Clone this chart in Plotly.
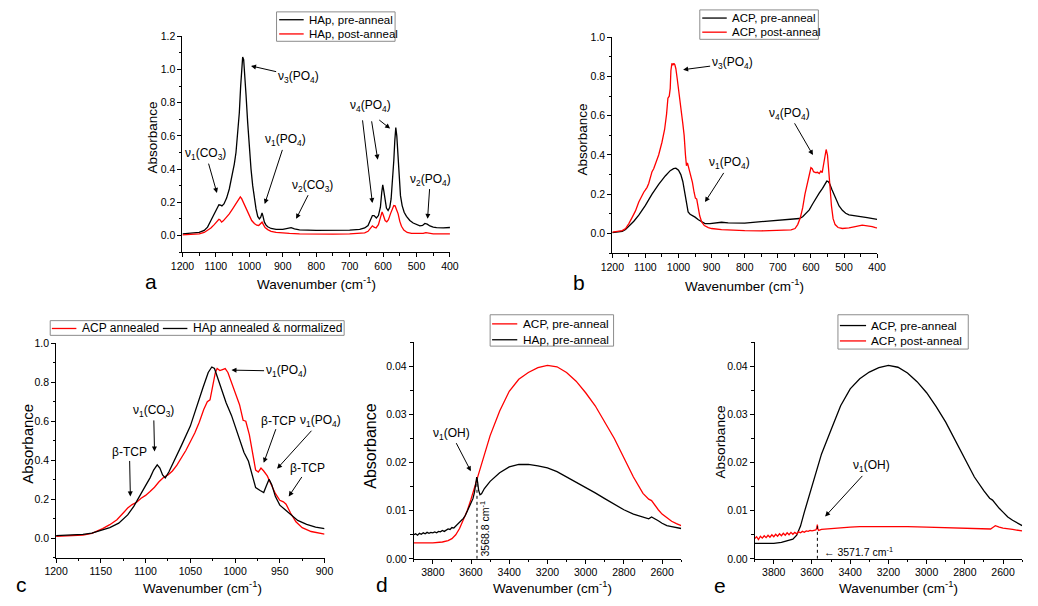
import plotly.graph_objects as go

FONT = "Liberation Sans, Arial, sans-serif"
BLACK = "#000000"
RED = "#ff0000"
W, H = 1038, 606

# ---- panel a: HAp, 1200-400 cm-1 ----
a_wn_pre = [1200, 1175, 1150, 1135, 1125, 1115, 1105, 1097, 1091, 1086, 1082, 1076, 1068, 1060, 1052, 1045,
            1040, 1035, 1030, 1026, 1023, 1020, 1017, 1014, 1010, 1005, 1000, 995, 990, 985, 980, 975, 970,
            966, 962, 959, 955, 950, 945, 935, 920, 900, 885, 875, 865, 850, 800, 750, 700, 670, 655, 645,
            638, 632, 627, 620, 614, 608, 604, 601, 598, 594, 590, 585, 580, 576, 572, 568, 565, 562, 559,
            556, 552, 548, 543, 537, 530, 520, 510, 500, 490, 482, 475, 468, 460, 450, 440, 420, 400]
a_abs_pre = [0.010, 0.012, 0.018, 0.030, 0.050, 0.090, 0.130, 0.165, 0.185, 0.183, 0.178, 0.190, 0.225, 0.280,
             0.350, 0.430, 0.500, 0.600, 0.740, 0.900, 1.010, 1.075, 1.060, 0.990, 0.850, 0.680, 0.530, 0.400,
             0.300, 0.220, 0.160, 0.115, 0.100, 0.110, 0.135, 0.115, 0.080, 0.062, 0.052, 0.042, 0.037, 0.036,
             0.040, 0.047, 0.040, 0.034, 0.030, 0.030, 0.032, 0.037, 0.045, 0.060, 0.090, 0.120, 0.120, 0.105,
             0.120, 0.170, 0.260, 0.305, 0.270, 0.200, 0.165, 0.150, 0.170, 0.220, 0.320, 0.450, 0.570, 0.650,
             0.600, 0.480, 0.330, 0.240, 0.180, 0.140, 0.115, 0.090, 0.075, 0.065, 0.058, 0.060, 0.072, 0.068,
             0.057, 0.050, 0.047, 0.046, 0.048]
a_wn_post = [1200, 1175, 1150, 1135, 1125, 1115, 1105, 1097, 1091, 1088, 1083, 1078, 1070, 1060, 1050, 1042,
             1035, 1030, 1027, 1023, 1018, 1012, 1005, 1000, 993, 985, 978, 972, 967, 962, 958, 953, 945, 935,
             920, 900, 880, 850, 800, 750, 700, 670, 655, 645, 638, 632, 627, 621, 614, 608, 603, 599, 594,
             589, 584, 578, 573, 568, 564, 560, 555, 550, 545, 538, 528, 515, 495, 480, 472, 464, 450, 420, 400]
a_abs_post = [0.004, 0.006, 0.010, 0.018, 0.030, 0.045, 0.065, 0.085, 0.097, 0.095, 0.080, 0.088, 0.105, 0.130,
              0.160, 0.185, 0.215, 0.228, 0.232, 0.222, 0.200, 0.170, 0.135, 0.112, 0.090, 0.072, 0.062, 0.060,
              0.068, 0.080, 0.065, 0.047, 0.035, 0.025, 0.018, 0.014, 0.012, 0.010, 0.008, 0.008, 0.009, 0.012,
              0.016, 0.025, 0.045, 0.058, 0.050, 0.045, 0.065, 0.110, 0.142, 0.120, 0.090, 0.082, 0.095, 0.130,
              0.160, 0.180, 0.178, 0.160, 0.130, 0.085, 0.055, 0.032, 0.018, 0.012, 0.010, 0.012, 0.017, 0.013,
              0.010, 0.009, 0.010]

# ---- panel b: ACP, 1200-400 cm-1 ----
b_wn_pre = [1200, 1185, 1170, 1160, 1150, 1135, 1120, 1100, 1080, 1060, 1040, 1025, 1015, 1008, 1000, 993,
            987, 981, 976, 971, 965, 958, 950, 940, 930, 920, 905, 890, 870, 850, 800, 750, 700, 650, 635,
            625, 615, 605, 595, 585, 575, 565, 558, 552, 548, 543, 537, 530, 522, 515, 505, 495, 485, 470,
            450, 430, 415, 400]
b_abs_pre = [0.004, 0.006, 0.010, 0.020, 0.035, 0.062, 0.093, 0.143, 0.200, 0.250, 0.293, 0.320, 0.330, 0.333,
             0.322, 0.300, 0.265, 0.200, 0.140, 0.110, 0.098, 0.092, 0.083, 0.070, 0.058, 0.050, 0.050, 0.053,
             0.057, 0.054, 0.052, 0.060, 0.068, 0.073, 0.076, 0.085, 0.100, 0.120, 0.150, 0.180, 0.205, 0.230,
             0.252, 0.267, 0.265, 0.252, 0.225, 0.195, 0.165, 0.140, 0.118, 0.103, 0.095, 0.090, 0.086, 0.081,
             0.077, 0.072]
b_wn_post = [1200, 1180, 1170, 1160, 1150, 1140, 1130, 1120, 1112, 1105, 1100, 1095, 1090, 1085, 1080, 1075,
             1068, 1060, 1050, 1042, 1036, 1032, 1028, 1025, 1023, 1020, 1017, 1014, 1011, 1008, 1004, 1000,
             996, 993, 990, 987, 983, 979, 976, 973, 970, 966, 962, 958, 953, 949, 945, 941, 936, 930, 922,
             910, 900, 870, 850, 800, 750, 700, 660, 648, 640, 632, 625, 618, 612, 606, 600, 596, 592, 586,
             580, 575, 570, 566, 562, 558, 554, 550, 546, 542, 538, 533, 527, 518, 505, 495, 485, 470, 455,
             445, 435, 425, 415, 405, 400]
b_abs_post = [0.007, 0.010, 0.014, 0.025, 0.050, 0.082, 0.115, 0.160, 0.190, 0.210, 0.222, 0.235, 0.255, 0.290,
              0.315, 0.330, 0.360, 0.400, 0.465, 0.530, 0.610, 0.690, 0.700, 0.740, 0.830, 0.868, 0.858, 0.868,
              0.860, 0.840, 0.790, 0.735, 0.680, 0.610, 0.600, 0.560, 0.500, 0.400, 0.345, 0.360, 0.340, 0.320,
              0.300, 0.260, 0.210, 0.180, 0.175, 0.140, 0.090, 0.058, 0.040, 0.030, 0.025, 0.019, 0.017, 0.014,
              0.013, 0.014, 0.018, 0.025, 0.045, 0.080, 0.130, 0.200, 0.250, 0.300, 0.335, 0.330, 0.315, 0.310,
              0.312, 0.305, 0.318, 0.310, 0.345, 0.390, 0.428, 0.400, 0.330, 0.230, 0.140, 0.075, 0.045, 0.030,
              0.025, 0.025, 0.028, 0.033, 0.038, 0.042, 0.040, 0.038, 0.035, 0.030, 0.028]

# ---- panel c: annealed, 1200-900 cm-1 ----
c_wn_acp = [1200, 1185, 1170, 1160, 1155, 1148, 1140, 1132, 1125, 1120, 1115, 1110, 1105, 1100, 1095, 1090,
            1085, 1080, 1075, 1070, 1065, 1060, 1055, 1050, 1045, 1040, 1035, 1031, 1028, 1025, 1022, 1020,
            1017, 1014, 1011, 1008, 1004, 1000, 995, 991, 988, 984, 980, 977, 974, 971, 968, 964, 960, 955,
            950, 946, 943, 938, 932, 925, 915, 900]
c_abs_acp = [0.010, 0.012, 0.017, 0.025, 0.035, 0.050, 0.070, 0.095, 0.130, 0.155, 0.173, 0.185, 0.205, 0.220,
             0.240, 0.262, 0.290, 0.312, 0.325, 0.345, 0.375, 0.410, 0.450, 0.495, 0.540, 0.595, 0.660, 0.700,
             0.710, 0.780, 0.850, 0.870, 0.860, 0.865, 0.870, 0.850, 0.800, 0.745, 0.685, 0.605, 0.600, 0.530,
             0.420, 0.350, 0.340, 0.360, 0.345, 0.320, 0.280, 0.230, 0.195, 0.187, 0.175, 0.130, 0.085, 0.055,
             0.035, 0.022]
c_wn_hap = [1200, 1185, 1170, 1160, 1150, 1140, 1130, 1120, 1113, 1106, 1100, 1095, 1091, 1087, 1084, 1081,
            1078, 1074, 1068, 1060, 1050, 1042, 1036, 1030, 1026, 1023, 1020, 1015, 1010, 1004, 1000, 995, 990,
            985, 981, 977, 972, 968, 965, 962, 959, 955, 950, 945, 938, 930, 920, 910, 900]
c_abs_hap = [0.014, 0.016, 0.020, 0.027, 0.040, 0.055, 0.078, 0.120, 0.165, 0.225, 0.270, 0.310, 0.350, 0.377,
             0.360, 0.325, 0.310, 0.340, 0.395, 0.475, 0.575, 0.680, 0.770, 0.850, 0.878, 0.870, 0.830, 0.760,
             0.695, 0.630, 0.578, 0.510, 0.440, 0.395, 0.320, 0.260, 0.245, 0.235, 0.270, 0.303, 0.275, 0.215,
             0.170, 0.150, 0.120, 0.092, 0.072, 0.058, 0.050]

# ---- panel d: OH region, pre-anneal ----
d_wn_acp = [3900, 3850, 3800, 3750, 3720, 3700, 3680, 3660, 3640, 3620, 3600, 3580, 3560, 3540, 3500, 3450,
            3400, 3350, 3300, 3250, 3200, 3150, 3100, 3050, 3000, 2950, 2900, 2850, 2800, 2750, 2700, 2670,
            2655, 2640, 2620, 2600, 2575, 2550, 2525, 2500]
d_abs_acp = [0.0033, 0.0033, 0.0033, 0.0035, 0.0038, 0.0042, 0.0050, 0.0063, 0.0080, 0.0100, 0.0124, 0.0151,
             0.0178, 0.0205, 0.0256, 0.0307, 0.0348, 0.0373, 0.0387, 0.0397, 0.0402, 0.0399, 0.0387, 0.0369,
             0.0345, 0.0318, 0.0285, 0.0250, 0.0210, 0.0170, 0.0136, 0.0124, 0.0121, 0.0112, 0.0102, 0.0093,
             0.0085, 0.0078, 0.0073, 0.0069]
d_wn_hap = [3900, 3890, 3880, 3870, 3860, 3850, 3840, 3830, 3820, 3810, 3800, 3790, 3780, 3770, 3760, 3750,
            3740, 3730, 3720, 3710, 3700, 3690, 3680, 3670, 3660, 3650, 3640, 3630, 3620, 3610, 3600, 3590,
            3582, 3576, 3570, 3565, 3560, 3553, 3545, 3530, 3500, 3450, 3400, 3350, 3300, 3250, 3200, 3150,
            3100, 3050, 3000, 2950, 2900, 2850, 2800, 2750, 2700, 2670, 2655, 2645, 2620, 2600, 2575, 2550,
            2525, 2500]
d_abs_hap = [0.0050, 0.0052, 0.0049, 0.0053, 0.0051, 0.0054, 0.0052, 0.0055, 0.0053, 0.0055, 0.0054, 0.0056,
             0.0054, 0.0057, 0.0056, 0.0059, 0.0057, 0.0060, 0.0062, 0.0061, 0.0065, 0.0064, 0.0068, 0.0071,
             0.0075, 0.0079, 0.0084, 0.0090, 0.0098, 0.0106, 0.0114, 0.0125, 0.0138, 0.0155, 0.0170, 0.0158,
             0.0142, 0.0133, 0.0135, 0.0146, 0.0161, 0.0179, 0.0191, 0.0196, 0.0196, 0.0193, 0.0189, 0.0181,
             0.0170, 0.0159, 0.0149, 0.0137, 0.0125, 0.0113, 0.0102, 0.0093, 0.0086, 0.0083, 0.0087, 0.0085,
             0.0079, 0.0074, 0.0069, 0.0067, 0.0065, 0.0063]
d_peak = 3568.8

# ---- panel e: OH region, ACP pre/post ----
e_wn_pre = [3900, 3850, 3800, 3760, 3730, 3700, 3680, 3660, 3640, 3620, 3600, 3580, 3550, 3500, 3450, 3400,
            3350, 3300, 3250, 3200, 3150, 3100, 3050, 3000, 2950, 2900, 2850, 2800, 2750, 2700, 2670, 2655,
            2640, 2620, 2600, 2575, 2550, 2525, 2500]
e_abs_pre = [0.0032, 0.0032, 0.0032, 0.0034, 0.0037, 0.0041, 0.0049, 0.0068, 0.0097, 0.0124, 0.0152, 0.0180,
             0.0218, 0.0268, 0.0318, 0.0353, 0.0374, 0.0388, 0.0397, 0.0402, 0.0398, 0.0386, 0.0368, 0.0345,
             0.0316, 0.0284, 0.0246, 0.0206, 0.0170, 0.0141, 0.0126, 0.0122, 0.0114, 0.0105, 0.0097, 0.0087,
             0.0080, 0.0074, 0.0069]
e_wn_post = [3900, 3890, 3880, 3870, 3860, 3850, 3840, 3830, 3820, 3810, 3800, 3790, 3780, 3770, 3760, 3750,
             3740, 3730, 3720, 3710, 3700, 3690, 3680, 3670, 3660, 3650, 3640, 3630, 3620, 3610, 3600, 3590,
             3580, 3575, 3572, 3569, 3565, 3550, 3500, 3450, 3400, 3350, 3300, 3250, 3200, 3150, 3100, 3000,
             2900, 2800, 2700, 2665, 2650, 2640, 2620, 2600, 2550, 2500]
e_abs_post = [0.0042, 0.0046, 0.0040, 0.0047, 0.0043, 0.0048, 0.0044, 0.0049, 0.0045, 0.0050, 0.0046, 0.0051,
              0.0047, 0.0052, 0.0048, 0.0053, 0.0049, 0.0054, 0.0050, 0.0055, 0.0051, 0.0055, 0.0052, 0.0056,
              0.0054, 0.0057, 0.0055, 0.0058, 0.0057, 0.0059, 0.0058, 0.0059, 0.0060, 0.0064, 0.0071, 0.0062,
              0.0059, 0.0061, 0.0063, 0.0065, 0.0066, 0.0067, 0.0067, 0.0068, 0.0068, 0.0067, 0.0067, 0.0066,
              0.0065, 0.0064, 0.0063, 0.0062, 0.0066, 0.0069, 0.0066, 0.0064, 0.0061, 0.0058]
e_peak = 3571.7

fig = go.Figure()


def line(x, y, name, color, ax):
    fig.add_trace(go.Scatter(x=x, y=y, mode="lines", name=name, line=dict(color=color, width=1.3),
                             xaxis="x" + ax, yaxis="y" + ax, showlegend=False))


line(a_wn_pre, a_abs_pre, "HAp, pre-anneal", BLACK, "")
line(a_wn_post, a_abs_post, "HAp, post-anneal", RED, "")
line(b_wn_pre, b_abs_pre, "ACP, pre-anneal", BLACK, "2")
line(b_wn_post, b_abs_post, "ACP, post-anneal", RED, "2")
line(c_wn_acp, c_abs_acp, "ACP annealed", RED, "3")
line(c_wn_hap, c_abs_hap, "HAp annealed & normalized", BLACK, "3")
line(d_wn_acp, d_abs_acp, "ACP, pre-anneal", RED, "4")
line(d_wn_hap, d_abs_hap, "HAp, pre-anneal", BLACK, "4")
line(e_wn_pre, e_abs_pre, "ACP, pre-anneal", BLACK, "5")
line(e_wn_post, e_abs_post, "ACP, post-anneal", RED, "5")


def axis(domain, rng, dtick, minor, anchor, fmt=None, tick0=0):
    d = dict(domain=domain, range=rng, anchor=anchor, showline=True, linecolor="black", linewidth=1,
             ticks="outside", ticklen=4, tickwidth=1, tickcolor="black", showgrid=False, zeroline=False,
             tickmode="linear", tick0=tick0, dtick=dtick,
             minor=dict(ticks="outside", ticklen=2.5, dtick=minor, tickcolor="black", showgrid=False),
             tickfont=dict(family=FONT, size=10.5, color="black"))
    if fmt:
        d["tickformat"] = fmt
    return d


top_y = [1 - 251 / H, 1 - 31 / H]
top_y2 = [1 - 252 / H, 1 - 32 / H]
bot_y = [1 - 563 / H, 1 - 344 / H]
bot_y2 = [1 - 564 / H, 1 - 343 / H]

fig.update_layout(
    xaxis=axis([174 / W, 447 / W], [1200, 400], 100, 50, "y", tick0=400),
    yaxis=axis(top_y, [-0.1, 1.2], 0.2, 0.1, "x", ".1f"),
    xaxis2=axis([612.7 / W, 883 / W], [1200, 400], 100, 50, "y2", tick0=400),
    yaxis2=axis(top_y2, [-0.1, 1.0], 0.2, 0.1, "x2", ".1f"),
    xaxis3=axis([45 / W, 319 / W], [1200, 900], 50, 25, "y3", tick0=900),
    yaxis3=axis(bot_y, [-0.1, 1.0], 0.2, 0.1, "x3", ".1f"),
    xaxis4=axis([410 / W, 683 / W], [3900, 2500], 200, 100, "y4", tick0=2600),
    yaxis4=axis(bot_y2, [0, 0.045], 0.01, 0.005, "x4", ".2f"),
    xaxis5=axis([758 / W, 1031 / W], [3900, 2500], 200, 100, "y5", tick0=2600),
    yaxis5=axis(bot_y2, [0, 0.045], 0.01, 0.005, "x5", ".2f"),
)

anns = []
shapes = []


def px(x, y):
    return x / W, 1 - y / H


# legend boxes drawn in pixel space: box, rows (name, colour, line x0, line x1, text x, row y)
legends = [
    ((270, 6, 391, 36), [("HAp, pre-anneal", BLACK, 272.7, 297.7, 301.5, 14),
                         ("HAp, post-anneal", RED, 272.7, 297.7, 301.5, 28.5)], 11.5),
    ((702, 4, 823, 34), [("ACP, pre-anneal", BLACK, 704.5, 729.5, 732.5, 12.3),
                         ("ACP, post-anneal", RED, 704.5, 729.5, 732.5, 26.7)], 11.5),
    ((39, 321, 339, 336), [("ACP annealed", RED, 40.7, 65.7, 69.3, 329),
                           ("HAp annealed & normalized", BLACK, 154, 179, 182.7, 329)], 12),
    ((488, 315, 614, 347), [("ACP, pre-anneal", RED, 490, 515.7, 519.3, 324.3),
                            ("HAp, pre-anneal", BLACK, 490, 515.7, 519.3, 340.5)], 11.8),
    ((843, 315, 976, 350), [("ACP, pre-anneal", BLACK, 845, 871.7, 875, 326),
                            ("ACP, post-anneal", RED, 845, 871.7, 875, 341.7)], 11.8),
]
for (bx0, by0, bx1, by1), rows, fs in legends:
    x0, y0 = px(bx0, by0)
    x1, y1 = px(bx1, by1)
    shapes.append(dict(type="rect", xref="paper", yref="paper", x0=x0, x1=x1, y0=y1, y1=y0,
                       line=dict(color="#8c8c8c", width=1), fillcolor="white", layer="above"))
    for name, col, lx0, lx1, tx, ry in rows:
        shapes.append(dict(type="line", xref="paper", yref="paper", x0=lx0 / W, x1=lx1 / W,
                           y0=1 - ry / H, y1=1 - ry / H, line=dict(color=col, width=1.3), layer="above"))
        anns.append(dict(xref="paper", yref="paper", x=tx / W, y=1 - ry / H, xanchor="left", yanchor="middle",
                         text=name, showarrow=False, font=dict(family=FONT, size=fs, color="black")))


def note(ax, text, tx, ty, hx=None, hy=None, size=12):
    a = dict(xref="x" + ax, yref="y" + ax, text=text, font=dict(family=FONT, size=size, color="black"))
    if hx is None:
        a.update(x=tx, y=ty, showarrow=False)
    else:
        a.update(x=hx, y=hy, ax=tx, ay=ty, axref="x" + ax, ayref="y" + ax, showarrow=True,
                 arrowhead=2, arrowsize=1, arrowwidth=1, arrowcolor="black")
    anns.append(a)


# panel a
note("", "ν<sub>1</sub>(CO<sub>3</sub>)", 1130, 0.49, 1097, 0.256)
note("", "ν<sub>3</sub>(PO<sub>4</sub>)", 854, 0.957, 995, 1.022)
note("", "ν<sub>1</sub>(PO<sub>4</sub>)", 892, 0.573, 954, 0.19)
note("", "ν<sub>2</sub>(CO<sub>3</sub>)", 810, 0.30, 860, 0.10)
note("", "ν<sub>4</sub>(PO<sub>4</sub>)", 637, 0.78)
note("", "", 662, 0.703, 632, 0.195)
note("", "", 635, 0.697, 616, 0.457)
note("", "", 616, 0.703, 579, 0.644)
note("", "ν<sub>2</sub>(PO<sub>4</sub>)", 459, 0.337, 467, 0.10)
# panel b
note("2", "ν<sub>3</sub>(PO<sub>4</sub>)", 838, 0.868, 986, 0.835)
note("2", "ν<sub>1</sub>(PO<sub>4</sub>)", 845, 0.357, 920, 0.16)
note("2", "ν<sub>4</sub>(PO<sub>4</sub>)", 666, 0.61, 594, 0.40)
# panel c
note("3", "ν<sub>1</sub>(PO<sub>4</sub>)", 943, 0.857, 1004, 0.862)
note("3", "ν<sub>1</sub>(CO<sub>3</sub>)", 1091, 0.653, 1090, 0.445)
note("3", "β-TCP", 1118, 0.44, 1117, 0.215)
note("3", "β-TCP", 951, 0.603, 968, 0.387)
note("3", "ν<sub>1</sub>(PO<sub>4</sub>)", 905, 0.60, 953, 0.357)
note("3", "β-TCP", 919, 0.358, 940, 0.215)
# panel d
note("4", "ν<sub>1</sub>(OH)", 3703, 0.026, 3601, 0.0182)
anns.append(dict(xref="x4", yref="y4", x=3532, y=0.0063, text=f"{d_peak} cm<sup>-1</sup>", textangle=-90,
                 showarrow=False, font=dict(family=FONT, size=10.5, color="black")))
# panel e
note("5", "ν<sub>1</sub>(OH)", 3291, 0.0192, 3531, 0.0088)
anns.append(dict(xref="x5", yref="y5", x=3545, y=0.0016, xanchor="left", showarrow=False,
                 text=f"\u2190 {e_peak} cm<sup>-1</sup>", font=dict(family=FONT, size=10.5, color="black")))

# axis titles and panel letters
wn_title = "Wavenumber (cm<sup>-1</sup>)"
for x, y, t, s, ang in [
    (143, 134, "Absorbance", 13.5, -90), (311, 283, wn_title, 13.5, 0), (142, 281, "a", 21, 0),
    (582, 136, "Absorbance", 13.5, -90), (748, 285, wn_title, 13.5, 0), (579, 282, "b", 21, 0),
    (15, 447, "Absorbance", 15, -90), (194, 593, wn_title, 13.5, 0), (10, 590, "c", 21, 0),
    (365, 449, "Absorbance", 16, -90), (552, 593, wn_title, 13.5, 0), (378, 590, "d", 21, 0),
    (723, 445, "Absorbance", 13.7, -90), (905, 593, wn_title, 13.5, 0), (723, 591, "e", 21, 0),
]:
    anns.append(dict(xref="paper", yref="paper", x=x / W, y=1 - y / H, xanchor="center", yanchor="middle",
                     text=t, textangle=ang, showarrow=False, font=dict(family=FONT, size=s, color="black")))

shapes += [
    dict(type="line", xref="x4", yref="y4", x0=d_peak, x1=d_peak, y0=0, y1=0.0168,
         line=dict(color="black", width=1, dash="dot")),
    dict(type="line", xref="x5", yref="y5", x0=e_peak, x1=e_peak, y0=0, y1=0.0068,
         line=dict(color="black", width=1, dash="dot")),
]

fig.update_layout(
    annotations=anns, shapes=shapes, showlegend=False,
    width=W, height=H, margin=dict(l=0, r=0, t=0, b=0),
    paper_bgcolor="white", plot_bgcolor="white",
    font=dict(family=FONT, color="black"),
)

fig.write_html("out.html", config={"displayModeBar": False},
               post_script="document.body.style.margin='0';")
